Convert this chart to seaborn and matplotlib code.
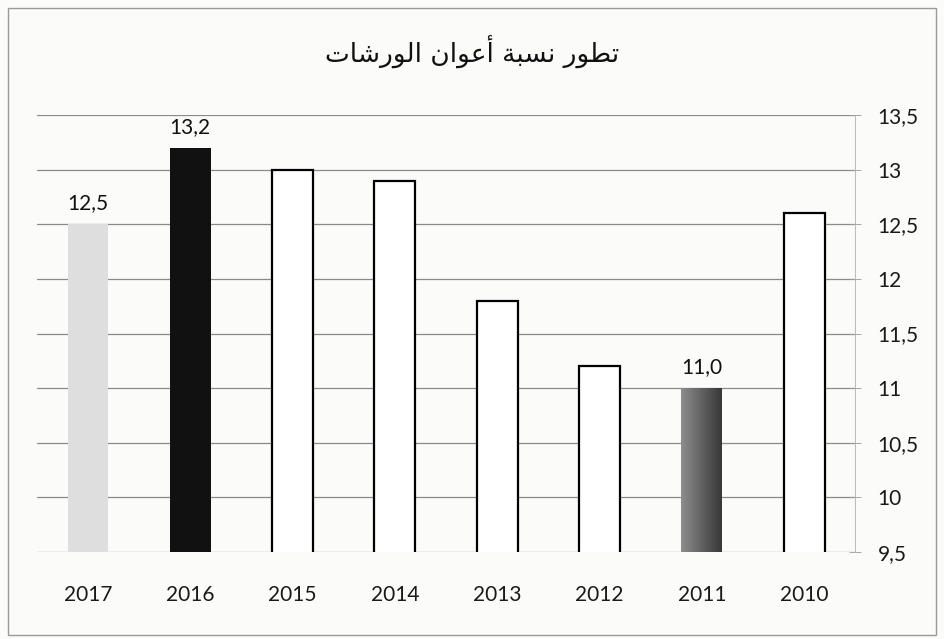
import numpy as np
import pandas as pd
import matplotlib
matplotlib.use('Agg')
import matplotlib.pyplot as plt
from matplotlib.patches import Rectangle
from matplotlib.ticker import FuncFormatter, MultipleLocator
import seaborn as sns

sns.set_style('white')
plt.rcParams['font.family'] = ['Lato', 'DejaVu Sans']

# data
years = ['2017', '2016', '2015', '2014', '2013', '2012', '2011', '2010']
rates = [12.5, 13.2, 13.0, 12.9, 11.8, 11.2, 11.0, 12.6]
labelled = ['2017', '2016', '2011']
title = 'تطور نسبة أعوان الورشات'

bar_colors = ['#dedede', '#111111', '#ffffff', '#ffffff', '#ffffff', '#ffffff', '#5a5a5a', '#ffffff']

# arabic letters: isolated, final, initial, medial (None = does not join left)
FORMS = {
    'ت': ('\ufe95', '\ufe96', '\ufe97', '\ufe98'),
    'ط': ('\ufec1', '\ufec2', '\ufec3', '\ufec4'),
    'و': ('\ufeed', '\ufeee', None, None),
    'ر': ('\ufead', '\ufeae', None, None),
    'ن': ('\ufee5', '\ufee6', '\ufee7', '\ufee8'),
    'س': ('\ufeb1', '\ufeb2', '\ufeb3', '\ufeb4'),
    'ب': ('\ufe8f', '\ufe90', '\ufe91', '\ufe92'),
    'ة': ('\ufe93', '\ufe94', None, None),
    'أ': ('\ufe83', '\ufe84', None, None),
    'ع': ('\ufec9', '\ufeca', '\ufecb', '\ufecc'),
    'ا': ('\ufe8d', '\ufe8e', None, None),
    'ل': ('\ufedd', '\ufede', '\ufedf', '\ufee0'),
    'ش': ('\ufeb5', '\ufeb6', '\ufeb7', '\ufeb8'),
}


def shape_word(w):
    out = []
    for i, c in enumerate(w):
        f = FORMS[c]
        prev_join = i > 0 and FORMS[w[i - 1]][2] is not None
        next_join = f[2] is not None and i < len(w) - 1
        if prev_join and next_join:
            out.append(f[3])
        elif prev_join:
            out.append(f[1])
        elif next_join:
            out.append(f[2])
        else:
            out.append(f[0])
    return ''.join(out)


def shape_rtl(text):
    words = [shape_word(w) for w in text.split(' ')]
    return ' '.join(w[::-1] for w in words[::-1])


df = pd.DataFrame({'year': years, 'rate': rates})

fig = plt.figure(figsize=(9.44, 6.39), dpi=100)
fig.patch.set_facecolor('#fbfbfa')
ax = fig.add_axes([0.039, 0.136, 0.867, 0.684])
ax.set_facecolor('none')

sns.barplot(data=df, x='year', y='rate', hue='year', order=years,
            palette=bar_colors, legend=False, width=0.4, ax=ax, zorder=3)

for bar, yr in zip(ax.patches, years):
    if yr in labelled:
        bar.set_edgecolor('none')
    else:
        bar.set_edgecolor('black')
        bar.set_linewidth(1.6)

# shaded bar for 2011, dark on the right
b = ax.patches[years.index('2011')]
x0, w = b.get_x(), b.get_width()
grad = np.linspace(0.55, 0.22, 64).reshape(1, -1)
img = ax.imshow(grad, cmap='gray', vmin=0, vmax=1, aspect='auto',
                extent=[x0, x0 + w, 9.5, b.get_height()], zorder=4)
img.set_clip_path(b)

ax.set_ylim(9.5, 13.5)
ax.set_xlim(-0.5, 7.5)
ax.yaxis.set_major_locator(MultipleLocator(0.5))
ax.yaxis.set_major_formatter(FuncFormatter(lambda v, p: ('%g' % v).replace('.', ',')))
ax.yaxis.tick_right()
ax.grid(axis='y', color='#8a8a8a', linewidth=0.9, zorder=0)
ax.tick_params(axis='y', which='major', direction='inout', length=8, width=0.6,
               color='#9a9a9a', labelsize=15, pad=12, colors='#1a1a1a')
ax.tick_params(axis='x', length=0, labelsize=15, pad=24, colors='#1a1a1a')
for s in ['top', 'left', 'bottom']:
    ax.spines[s].set_visible(False)
ax.spines['right'].set_color('#b0b0b0')
ax.spines['right'].set_linewidth(0.6)
ax.set_xlabel('')
ax.set_ylabel('')

for i, yr in enumerate(years):
    if yr in labelled:
        ax.text(i, rates[i] + 0.1, ('%.1f' % rates[i]).replace('.', ','),
                ha='center', va='bottom', fontsize=15, color='#111111')

fig.text(0.5, 0.918, shape_rtl(title), ha='center', va='center',
         fontsize=19, family=['DejaVu Sans'], color='#111111')

fig.add_artist(Rectangle((0.008, 0.006), 0.984, 0.982, transform=fig.transFigure,
                         fill=False, edgecolor='#9a9a9a', linewidth=1.0))

fig.savefig('out.png', dpi=100)
